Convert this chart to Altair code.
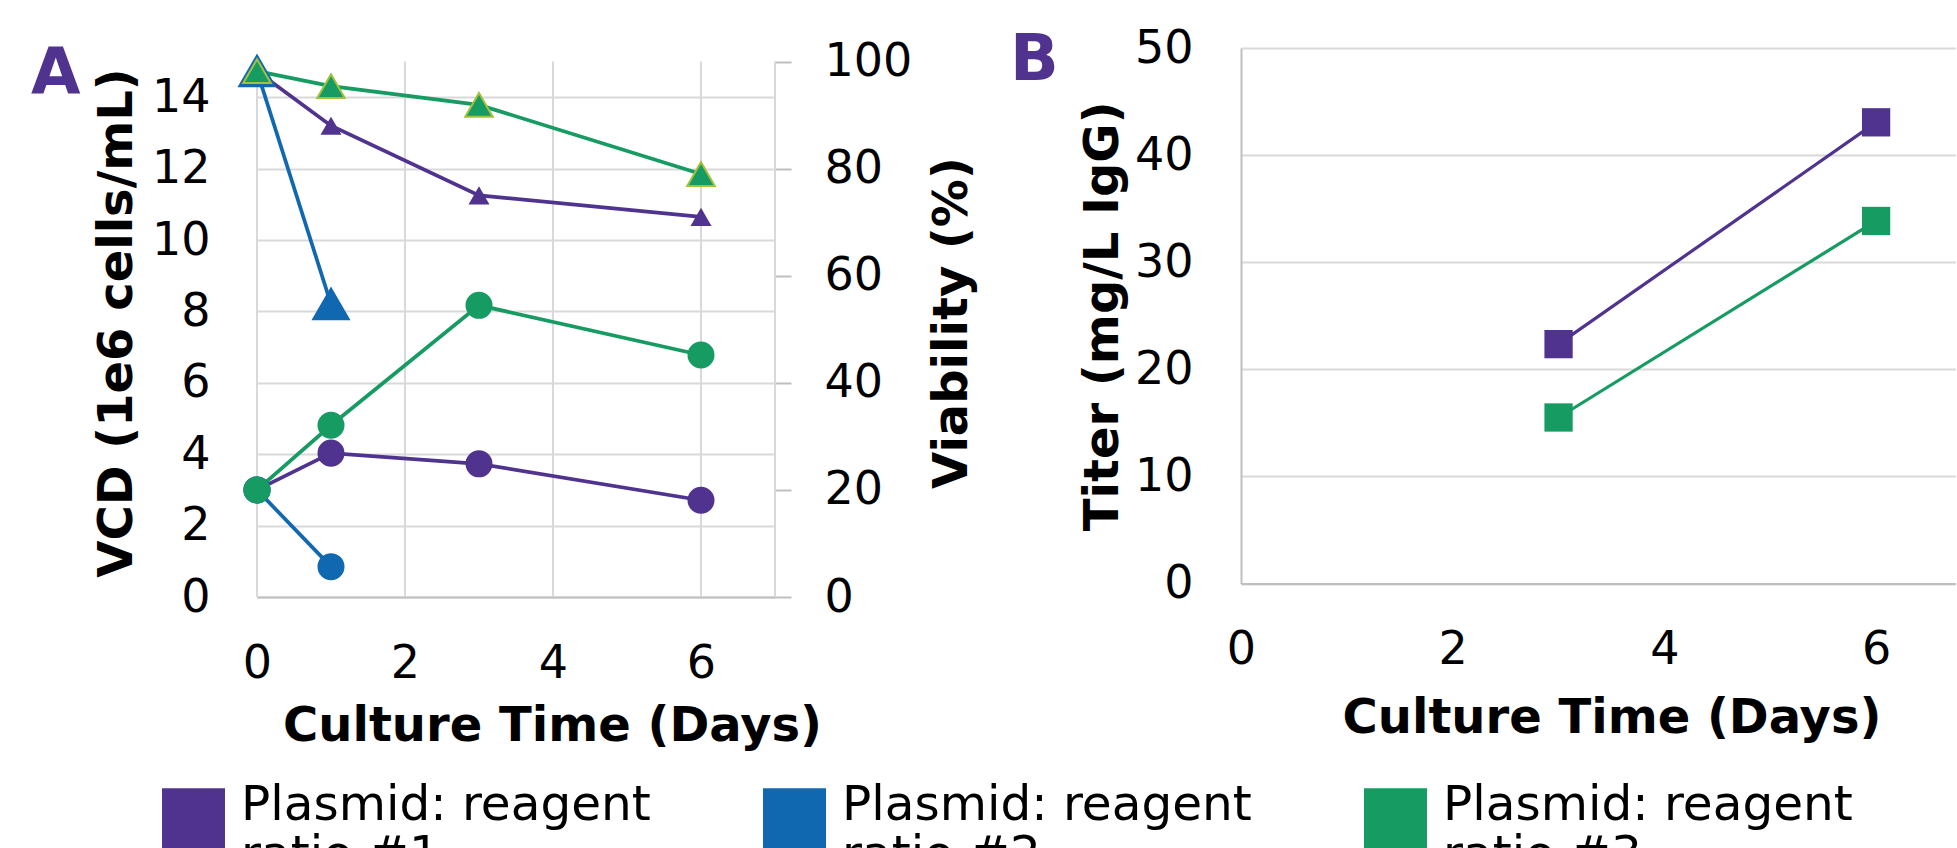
import altair as alt
import pandas as pd

# ---------------- data ----------------
SERIES = ["Plasmid: reagent ratio #1", "Plasmid: reagent ratio #2", "Plasmid: reagent ratio #3"]
COLORS = ["#50338f", "#1068b0", "#169b62"]

# Panel A - viable cell density (1e6 cells/mL), circles
VCD_DAYS_1 = [0, 1, 3, 6]
VCD_1 = [3.0, 4.03, 3.73, 2.71]
VCD_DAYS_2 = [0, 1]
VCD_2 = [3.0, 0.85]
VCD_DAYS_3 = [0, 1, 3, 6]
VCD_3 = [3.0, 4.81, 8.17, 6.78]

# Panel A - viability (%), triangles
VIA_DAYS_1 = [0, 1, 3, 6]
VIA_1 = [98.2, 88.0, 75.0, 71.0]
VIA_DAYS_2 = [0, 1]
VIA_2 = [98.2, 54.7]
VIA_DAYS_3 = [0, 1, 3, 6]
VIA_3 = [98.2, 95.4, 91.9, 79.0]

# Panel B - titer (mg/L IgG), squares
TITER_DAYS = [3, 6]
TITER_1 = [22.35, 43.06]
TITER_3 = [15.5, 33.85]

X_TICKS = [0, 2, 4, 6]
VCD_TICKS = [0, 2, 4, 6, 8, 10, 12, 14]
VIA_TICKS = [0, 20, 40, 60, 80, 100]
TITER_TICKS = [0, 10, 20, 30, 40, 50]

# ---------------- tables ----------------
def rows(days, vals, name, col):
    return [{"day": d, col: v, "series": name} for d, v in zip(days, vals)]

vcd_df = pd.DataFrame(rows(VCD_DAYS_1, VCD_1, SERIES[0], "v")
                      + rows(VCD_DAYS_2, VCD_2, SERIES[1], "v")
                      + rows(VCD_DAYS_3, VCD_3, SERIES[2], "v"))
via_df = pd.DataFrame(rows(VIA_DAYS_1, VIA_1, SERIES[0], "v")
                      + rows(VIA_DAYS_2, VIA_2, SERIES[1], "v")
                      + rows(VIA_DAYS_3, VIA_3, SERIES[2], "v"))
titer_df = pd.DataFrame(rows(TITER_DAYS, TITER_1, SERIES[0], "v")
                        + rows(TITER_DAYS, TITER_3, SERIES[2], "v"))
grid_df = pd.DataFrame({"day": X_TICKS + [7], "lo": 0, "hi": 15})

FONT = "DejaVu Sans"
GRID = "#d9d9d9"
DOMAIN = "#bfbfbf"
LABEL_SIZE = 46
TITLE_SIZE = 48
LINE_W = 3.7

color_scale = alt.Scale(domain=SERIES, range=COLORS)
legend = alt.Legend(
    orient="none", legendX=-95, legendY=740, direction="horizontal", title=None,
    padding=0, symbolType="square", symbolSize=3969, symbolStrokeWidth=0, symbolOpacity=1,
    labelFont=FONT, labelFontSize=48.5, labelColor="black", labelOffset=16,
    labelLimit=2000, columnPadding=112, labelBaseline="alphabetic",
    labelExpr="[slice(datum.label, 0, 16), slice(datum.label, 17)]",
)

# ---------------- panel A ----------------
A_W, A_H = 518, 549
VCD_MAX = 15 * A_H / 535.5
VIA_MAX = 100 * A_H / 535.5

xA = alt.X("day:Q", scale=alt.Scale(domain=[0, 7], nice=False, zero=False),
           axis=alt.Axis(values=X_TICKS, grid=False, ticks=False, tickSize=0,
                         domain=True, domainColor=DOMAIN, domainWidth=2,
                         labelFlush=False, labelPadding=44, title="Culture Time (Days)",
                         titlePadding=16, titleX=295))

rules = alt.Chart(grid_df).mark_rule(color=GRID, strokeWidth=2).encode(
    x=xA,
    y=alt.Y("lo:Q", scale=alt.Scale(domain=[0, VCD_MAX], nice=False), axis=None),
    y2="hi:Q",
)

vcd_y = alt.Y("v:Q", scale=alt.Scale(domain=[0, VCD_MAX], nice=False),
              axis=alt.Axis(values=VCD_TICKS, orient="left", grid=True, gridColor=GRID,
                            gridWidth=2, domain=False, ticks=False, tickSize=0,
                            labelPadding=47, title="VCD (1e6 cells/mL)", titlePadding=10))
vcd_lines = alt.Chart(vcd_df).mark_line(strokeWidth=LINE_W).encode(
    x=xA, y=vcd_y,
    stroke=alt.Stroke("series:N", scale=color_scale, legend=legend),
)
vcd_pts = alt.Chart(vcd_df).mark_point(filled=True, shape="circle", size=730, opacity=1).encode(
    x=xA, y=vcd_y,
    color=alt.Color("series:N", scale=color_scale, legend=legend),
)

via_y = alt.Y("v:Q", scale=alt.Scale(domain=[0, VIA_MAX], nice=False),
              axis=alt.Axis(values=VIA_TICKS, orient="right", grid=False, domain=False,
                            ticks=True, tickSize=16, tickColor=DOMAIN, tickWidth=2,
                            labelPadding=33, title="Viability (%)", titleAngle=270,
                            titleBaseline="top", titlePadding=17))
via_lines = alt.Chart(via_df).mark_line(strokeWidth=LINE_W).encode(
    x=xA, y=via_y,
    stroke=alt.Stroke("series:N", scale=color_scale, legend=legend),
)

def tri(name, size, stroke, sw):
    props = dict(filled=True, shape="triangle-up", size=size, opacity=1)
    if stroke:
        props.update(stroke=stroke, strokeWidth=sw)
    return alt.Chart(via_df).transform_filter(alt.datum.series == name).mark_point(**props).encode(
        x=xA, y=via_y,
        color=alt.Color("series:N", scale=color_scale, legend=legend),
    )

via_layer = alt.layer(
    via_lines,
    tri(SERIES[0], 440, None, 0),
    tri(SERIES[1], 1150, COLORS[1], 3),
    tri(SERIES[2], 760, "#a3c23a", 2),
)

def panel_title(letter, dx):
    return alt.TitleParams(letter, anchor="start", frame="group", orient="top", offset=-74,
                           baseline="alphabetic", dx=dx, dy=45, fontSize=64,
                           font=FONT, fontWeight="bold", color=COLORS[0])

panel_a = alt.layer(rules, alt.layer(vcd_lines, vcd_pts), via_layer).resolve_scale(
    y="independent"
).properties(width=A_W, height=A_H, title=panel_title("A", -226))

# ---------------- panel B ----------------
B_W, B_H = 715, 535.5
B_PX_PER_DAY = 105.85
xB = alt.X("day:Q", scale=alt.Scale(domain=[0, B_W / B_PX_PER_DAY], nice=False, zero=False),
           axis=alt.Axis(values=X_TICKS, grid=False, ticks=False, tickSize=0,
                         domain=True, domainColor=DOMAIN, domainWidth=2,
                         labelFlush=False, labelPadding=44, title="Culture Time (Days)",
                         titlePadding=22, titleX=3.5 * B_PX_PER_DAY))
yB = alt.Y("v:Q", scale=alt.Scale(domain=[0, 50], nice=False),
           axis=alt.Axis(values=TITER_TICKS, grid=True, gridColor=GRID, gridWidth=2,
                         domain=True, domainColor=DOMAIN, domainWidth=2,
                         ticks=False, tickSize=0, labelPadding=48,
                         title="Titer (mg/L IgG)", titlePadding=7))
titer_lines = alt.Chart(titer_df).mark_line(strokeWidth=3.2).encode(
    x=xB, y=yB, stroke=alt.Stroke("series:N", scale=color_scale, legend=legend),
)
titer_pts = alt.Chart(titer_df).mark_point(filled=True, shape="square", size=800, opacity=1).encode(
    x=xB, y=yB, color=alt.Color("series:N", scale=color_scale, legend=legend),
)
panel_b = alt.layer(titer_lines, titer_pts).properties(
    width=B_W, height=B_H, title=panel_title("B", -231),
)

chart = alt.hconcat(panel_a, panel_b, spacing=33).properties(
    padding={"left": 31, "top": 25, "right": 0, "bottom": 0},
    background="white",
).configure_view(
    stroke=None
).configure_axis(
    labelFont=FONT, labelFontSize=LABEL_SIZE, labelColor="black",
    titleFont=FONT, titleFontSize=TITLE_SIZE, titleFontWeight="bold", titleColor="black",
)

chart.save("out.html", embed_options={"renderer": "svg", "actions": False})
